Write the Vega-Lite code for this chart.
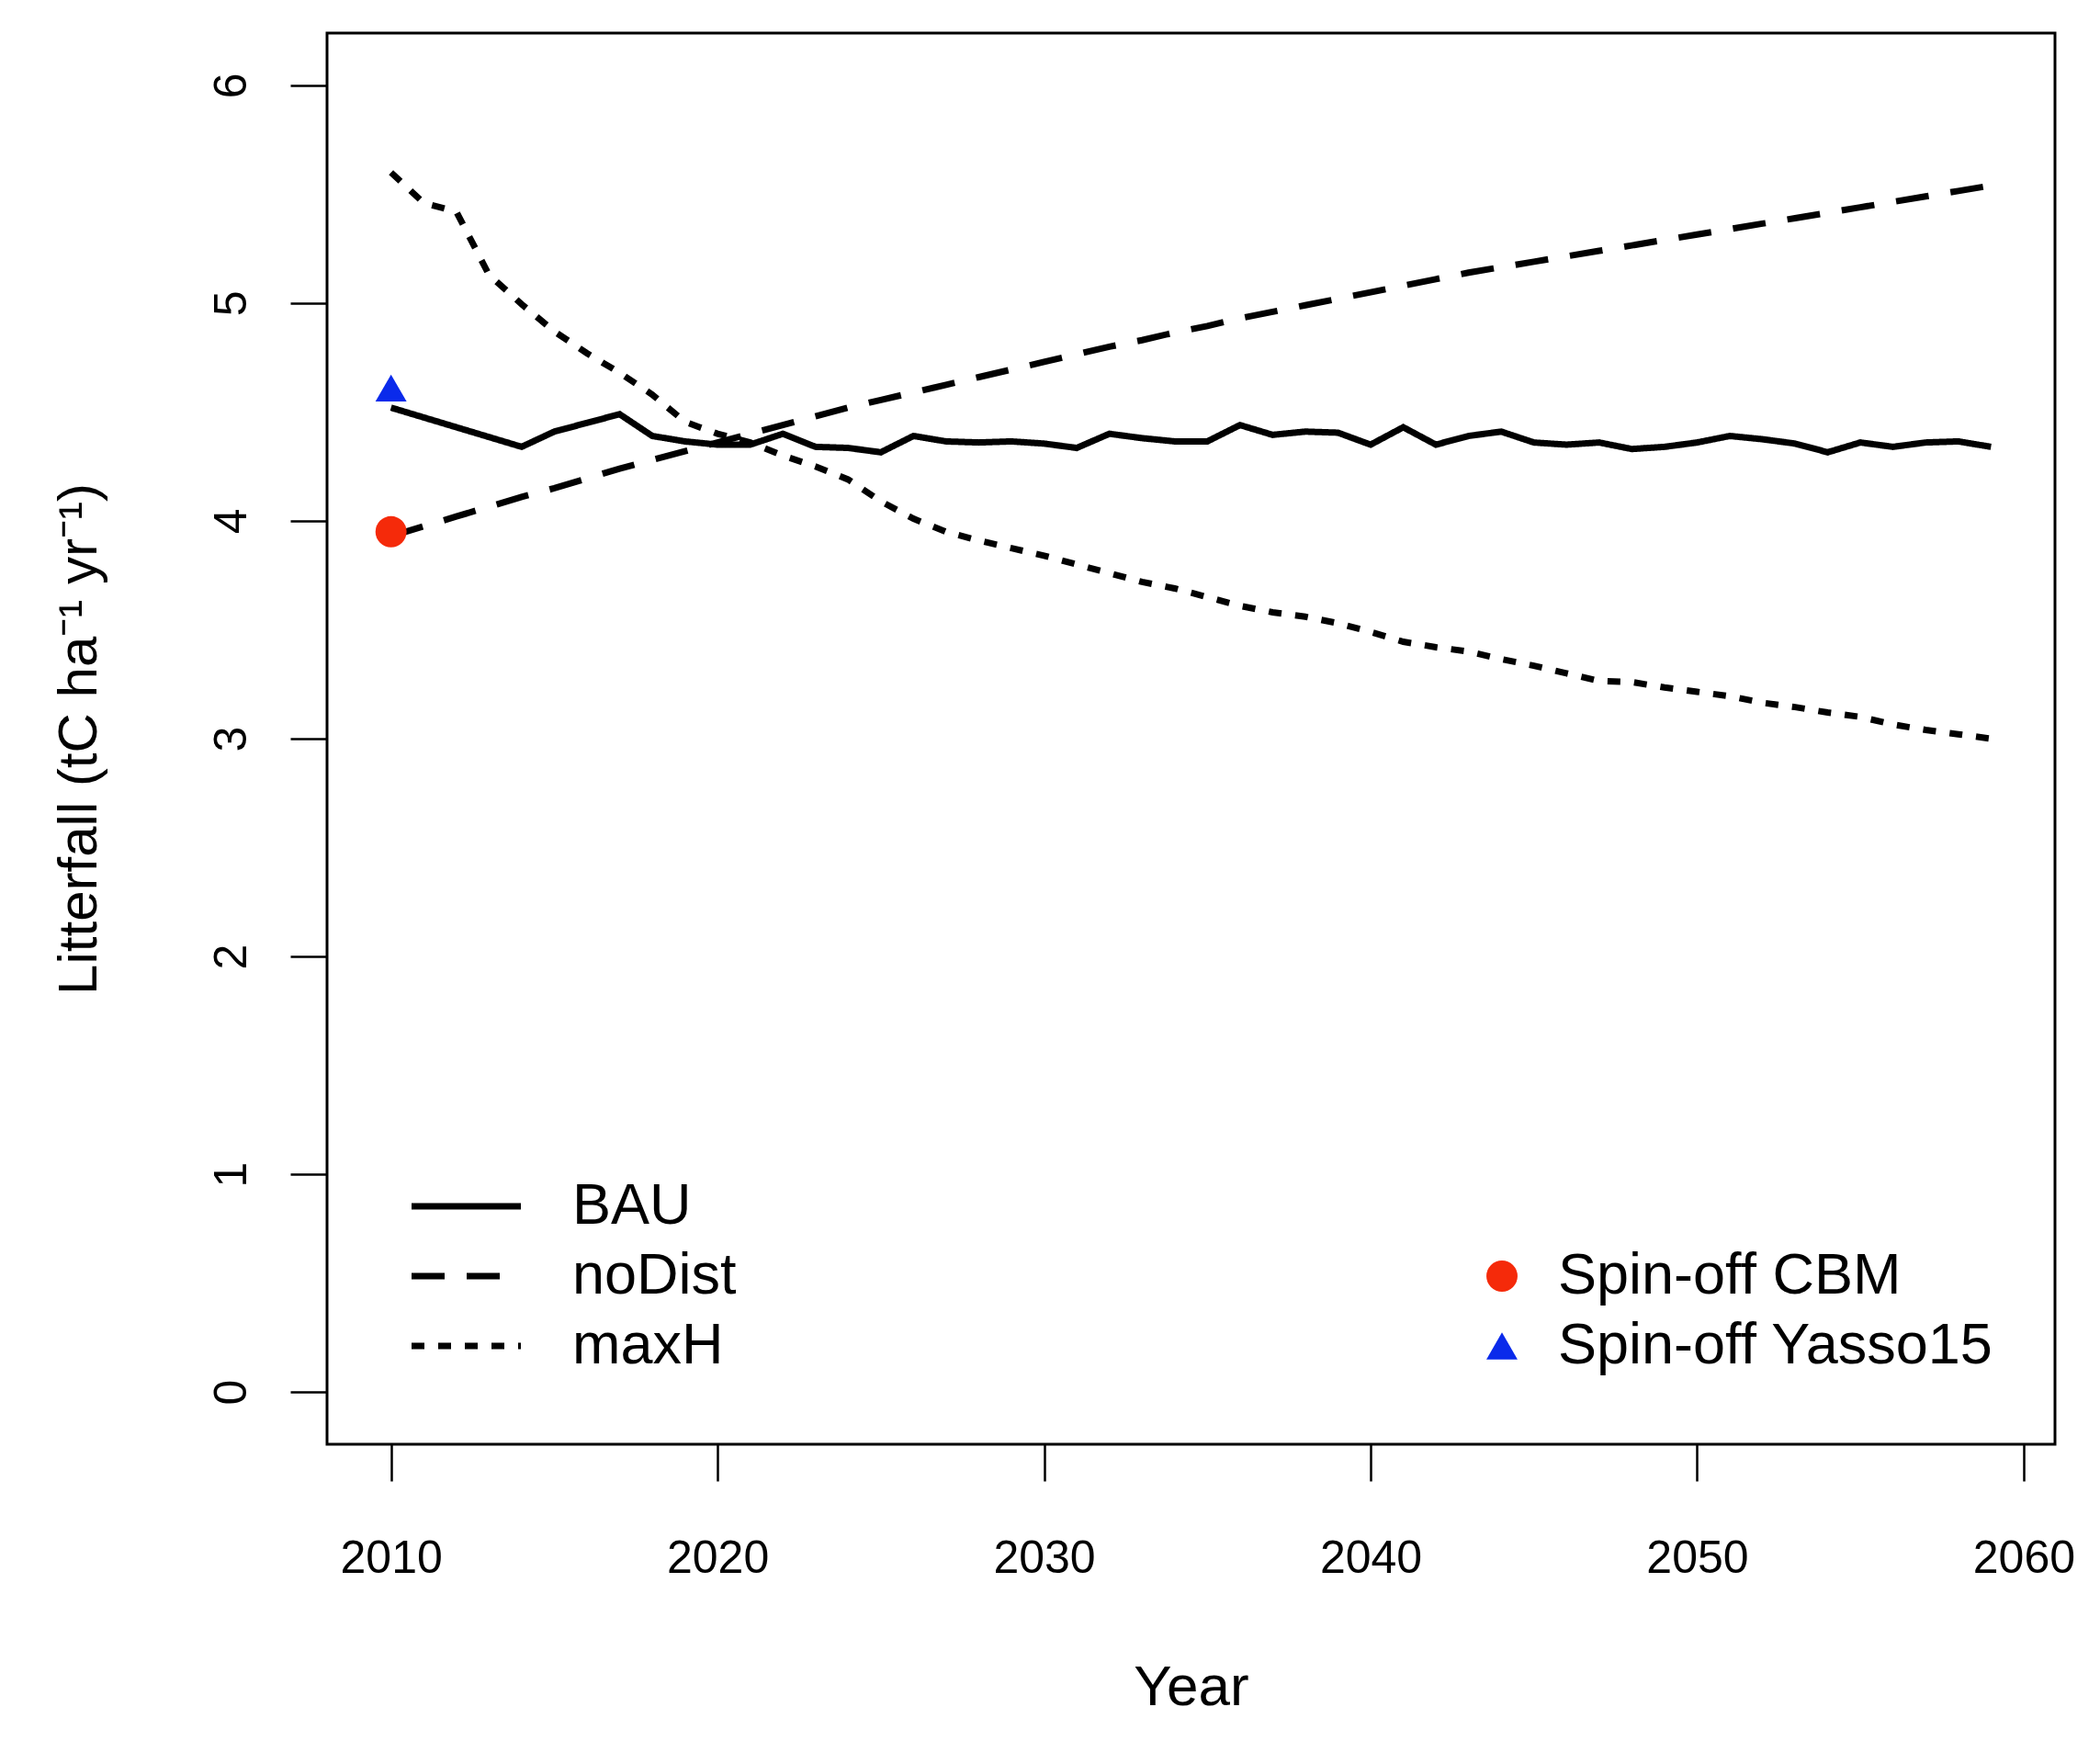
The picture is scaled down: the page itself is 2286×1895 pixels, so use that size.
{
  "$schema": "https://vega.github.io/schema/vega-lite/v6.json",
  "width": 1881,
  "height": 1536,
  "autosize": {"type": "none"},
  "padding": {"left": 356, "top": 36, "right": 49, "bottom": 323},
  "background": "white",
  "config": {
    "view": {"stroke": "black", "strokeWidth": 3},
    "font": "Liberation Sans"
  },
  "datasets": {
    "lines": [
      {"year": 2010, "scenario": "BAU", "litterfall": 4.52},
      {"year": 2011, "scenario": "BAU", "litterfall": 4.475},
      {"year": 2012, "scenario": "BAU", "litterfall": 4.43},
      {"year": 2013, "scenario": "BAU", "litterfall": 4.385},
      {"year": 2014, "scenario": "BAU", "litterfall": 4.34},
      {"year": 2015, "scenario": "BAU", "litterfall": 4.41},
      {"year": 2016, "scenario": "BAU", "litterfall": 4.45},
      {"year": 2017, "scenario": "BAU", "litterfall": 4.49},
      {"year": 2018, "scenario": "BAU", "litterfall": 4.39},
      {"year": 2019, "scenario": "BAU", "litterfall": 4.365},
      {"year": 2020, "scenario": "BAU", "litterfall": 4.35},
      {"year": 2021, "scenario": "BAU", "litterfall": 4.35},
      {"year": 2022, "scenario": "BAU", "litterfall": 4.40},
      {"year": 2023, "scenario": "BAU", "litterfall": 4.34},
      {"year": 2024, "scenario": "BAU", "litterfall": 4.335},
      {"year": 2025, "scenario": "BAU", "litterfall": 4.315},
      {"year": 2026, "scenario": "BAU", "litterfall": 4.39},
      {"year": 2027, "scenario": "BAU", "litterfall": 4.365},
      {"year": 2028, "scenario": "BAU", "litterfall": 4.36},
      {"year": 2029, "scenario": "BAU", "litterfall": 4.365},
      {"year": 2030, "scenario": "BAU", "litterfall": 4.355},
      {"year": 2031, "scenario": "BAU", "litterfall": 4.335},
      {"year": 2032, "scenario": "BAU", "litterfall": 4.40},
      {"year": 2033, "scenario": "BAU", "litterfall": 4.38},
      {"year": 2034, "scenario": "BAU", "litterfall": 4.365},
      {"year": 2035, "scenario": "BAU", "litterfall": 4.365},
      {"year": 2036, "scenario": "BAU", "litterfall": 4.44},
      {"year": 2037, "scenario": "BAU", "litterfall": 4.395},
      {"year": 2038, "scenario": "BAU", "litterfall": 4.41},
      {"year": 2039, "scenario": "BAU", "litterfall": 4.405},
      {"year": 2040, "scenario": "BAU", "litterfall": 4.35},
      {"year": 2041, "scenario": "BAU", "litterfall": 4.43},
      {"year": 2042, "scenario": "BAU", "litterfall": 4.35},
      {"year": 2043, "scenario": "BAU", "litterfall": 4.39},
      {"year": 2044, "scenario": "BAU", "litterfall": 4.41},
      {"year": 2045, "scenario": "BAU", "litterfall": 4.36},
      {"year": 2046, "scenario": "BAU", "litterfall": 4.35},
      {"year": 2047, "scenario": "BAU", "litterfall": 4.36},
      {"year": 2048, "scenario": "BAU", "litterfall": 4.33},
      {"year": 2049, "scenario": "BAU", "litterfall": 4.34},
      {"year": 2050, "scenario": "BAU", "litterfall": 4.36},
      {"year": 2051, "scenario": "BAU", "litterfall": 4.39},
      {"year": 2052, "scenario": "BAU", "litterfall": 4.375},
      {"year": 2053, "scenario": "BAU", "litterfall": 4.355},
      {"year": 2054, "scenario": "BAU", "litterfall": 4.315},
      {"year": 2055, "scenario": "BAU", "litterfall": 4.36},
      {"year": 2056, "scenario": "BAU", "litterfall": 4.34},
      {"year": 2057, "scenario": "BAU", "litterfall": 4.36},
      {"year": 2058, "scenario": "BAU", "litterfall": 4.365},
      {"year": 2059, "scenario": "BAU", "litterfall": 4.34},
      {"year": 2010, "scenario": "noDist", "litterfall": 3.93},
      {"year": 2011, "scenario": "noDist", "litterfall": 3.975},
      {"year": 2012, "scenario": "noDist", "litterfall": 4.02},
      {"year": 2013, "scenario": "noDist", "litterfall": 4.065},
      {"year": 2014, "scenario": "noDist", "litterfall": 4.11},
      {"year": 2015, "scenario": "noDist", "litterfall": 4.15},
      {"year": 2016, "scenario": "noDist", "litterfall": 4.195},
      {"year": 2017, "scenario": "noDist", "litterfall": 4.24},
      {"year": 2018, "scenario": "noDist", "litterfall": 4.28},
      {"year": 2019, "scenario": "noDist", "litterfall": 4.32},
      {"year": 2020, "scenario": "noDist", "litterfall": 4.36},
      {"year": 2021, "scenario": "noDist", "litterfall": 4.40},
      {"year": 2022, "scenario": "noDist", "litterfall": 4.44},
      {"year": 2023, "scenario": "noDist", "litterfall": 4.48},
      {"year": 2024, "scenario": "noDist", "litterfall": 4.52},
      {"year": 2025, "scenario": "noDist", "litterfall": 4.555},
      {"year": 2026, "scenario": "noDist", "litterfall": 4.59},
      {"year": 2027, "scenario": "noDist", "litterfall": 4.625},
      {"year": 2028, "scenario": "noDist", "litterfall": 4.66},
      {"year": 2029, "scenario": "noDist", "litterfall": 4.695},
      {"year": 2030, "scenario": "noDist", "litterfall": 4.73},
      {"year": 2031, "scenario": "noDist", "litterfall": 4.765},
      {"year": 2032, "scenario": "noDist", "litterfall": 4.80},
      {"year": 2033, "scenario": "noDist", "litterfall": 4.83},
      {"year": 2034, "scenario": "noDist", "litterfall": 4.865},
      {"year": 2035, "scenario": "noDist", "litterfall": 4.895},
      {"year": 2036, "scenario": "noDist", "litterfall": 4.93},
      {"year": 2037, "scenario": "noDist", "litterfall": 4.96},
      {"year": 2038, "scenario": "noDist", "litterfall": 4.99},
      {"year": 2039, "scenario": "noDist", "litterfall": 5.02},
      {"year": 2040, "scenario": "noDist", "litterfall": 5.05},
      {"year": 2041, "scenario": "noDist", "litterfall": 5.08},
      {"year": 2042, "scenario": "noDist", "litterfall": 5.11},
      {"year": 2043, "scenario": "noDist", "litterfall": 5.14},
      {"year": 2044, "scenario": "noDist", "litterfall": 5.165},
      {"year": 2045, "scenario": "noDist", "litterfall": 5.19},
      {"year": 2046, "scenario": "noDist", "litterfall": 5.215},
      {"year": 2047, "scenario": "noDist", "litterfall": 5.24},
      {"year": 2048, "scenario": "noDist", "litterfall": 5.265},
      {"year": 2049, "scenario": "noDist", "litterfall": 5.29},
      {"year": 2050, "scenario": "noDist", "litterfall": 5.315},
      {"year": 2051, "scenario": "noDist", "litterfall": 5.34},
      {"year": 2052, "scenario": "noDist", "litterfall": 5.365},
      {"year": 2053, "scenario": "noDist", "litterfall": 5.39},
      {"year": 2054, "scenario": "noDist", "litterfall": 5.415},
      {"year": 2055, "scenario": "noDist", "litterfall": 5.44},
      {"year": 2056, "scenario": "noDist", "litterfall": 5.465},
      {"year": 2057, "scenario": "noDist", "litterfall": 5.49},
      {"year": 2058, "scenario": "noDist", "litterfall": 5.515},
      {"year": 2059, "scenario": "noDist", "litterfall": 5.54},
      {"year": 2010, "scenario": "maxH", "litterfall": 5.60},
      {"year": 2011, "scenario": "maxH", "litterfall": 5.46},
      {"year": 2012, "scenario": "maxH", "litterfall": 5.42},
      {"year": 2013, "scenario": "maxH", "litterfall": 5.13},
      {"year": 2014, "scenario": "maxH", "litterfall": 4.995},
      {"year": 2015, "scenario": "maxH", "litterfall": 4.87},
      {"year": 2016, "scenario": "maxH", "litterfall": 4.77},
      {"year": 2017, "scenario": "maxH", "litterfall": 4.68},
      {"year": 2018, "scenario": "maxH", "litterfall": 4.58},
      {"year": 2019, "scenario": "maxH", "litterfall": 4.455},
      {"year": 2020, "scenario": "maxH", "litterfall": 4.40},
      {"year": 2021, "scenario": "maxH", "litterfall": 4.36},
      {"year": 2022, "scenario": "maxH", "litterfall": 4.30},
      {"year": 2023, "scenario": "maxH", "litterfall": 4.25},
      {"year": 2024, "scenario": "maxH", "litterfall": 4.19},
      {"year": 2025, "scenario": "maxH", "litterfall": 4.09},
      {"year": 2026, "scenario": "maxH", "litterfall": 4.01},
      {"year": 2027, "scenario": "maxH", "litterfall": 3.95},
      {"year": 2028, "scenario": "maxH", "litterfall": 3.91},
      {"year": 2029, "scenario": "maxH", "litterfall": 3.875},
      {"year": 2030, "scenario": "maxH", "litterfall": 3.84},
      {"year": 2031, "scenario": "maxH", "litterfall": 3.80},
      {"year": 2032, "scenario": "maxH", "litterfall": 3.76},
      {"year": 2033, "scenario": "maxH", "litterfall": 3.72},
      {"year": 2034, "scenario": "maxH", "litterfall": 3.69},
      {"year": 2035, "scenario": "maxH", "litterfall": 3.65},
      {"year": 2036, "scenario": "maxH", "litterfall": 3.61},
      {"year": 2037, "scenario": "maxH", "litterfall": 3.58},
      {"year": 2038, "scenario": "maxH", "litterfall": 3.56},
      {"year": 2039, "scenario": "maxH", "litterfall": 3.53},
      {"year": 2040, "scenario": "maxH", "litterfall": 3.49},
      {"year": 2041, "scenario": "maxH", "litterfall": 3.445},
      {"year": 2042, "scenario": "maxH", "litterfall": 3.42},
      {"year": 2043, "scenario": "maxH", "litterfall": 3.40},
      {"year": 2044, "scenario": "maxH", "litterfall": 3.365},
      {"year": 2045, "scenario": "maxH", "litterfall": 3.335},
      {"year": 2046, "scenario": "maxH", "litterfall": 3.30},
      {"year": 2047, "scenario": "maxH", "litterfall": 3.265},
      {"year": 2048, "scenario": "maxH", "litterfall": 3.26},
      {"year": 2049, "scenario": "maxH", "litterfall": 3.235},
      {"year": 2050, "scenario": "maxH", "litterfall": 3.215},
      {"year": 2051, "scenario": "maxH", "litterfall": 3.195},
      {"year": 2052, "scenario": "maxH", "litterfall": 3.165},
      {"year": 2053, "scenario": "maxH", "litterfall": 3.145},
      {"year": 2054, "scenario": "maxH", "litterfall": 3.12},
      {"year": 2055, "scenario": "maxH", "litterfall": 3.10},
      {"year": 2056, "scenario": "maxH", "litterfall": 3.065},
      {"year": 2057, "scenario": "maxH", "litterfall": 3.04},
      {"year": 2058, "scenario": "maxH", "litterfall": 3.02},
      {"year": 2059, "scenario": "maxH", "litterfall": 3.00}
    ],
    "points": [
      {"year": 2010, "source": "Spin-off CBM", "litterfall": 3.95},
      {"year": 2010, "source": "Spin-off Yasso15", "litterfall": 4.61}
    ]
  },
  "layer": [
    {
      "data": {"name": "lines"},
      "mark": {"type": "line", "color": "black", "strokeWidth": 7, "strokeCap": "butt"},
      "encoding": {
        "x": {
          "field": "year", "type": "quantitative",
          "scale": {"domain": [2008.04, 2060.96], "nice": false, "zero": false},
          "axis": {
            "values": [2010, 2020, 2030, 2040, 2050, 2060], "format": "d",
            "grid": false, "domain": false,
            "tickSize": 40, "tickWidth": 2.5, "tickColor": "black",
            "labelFontSize": 50, "labelColor": "black", "labelPadding": 59,
            "labelFlush": false, "labelOverlap": false,
            "title": "Year", "titleFontSize": 62, "titleFontWeight": "normal",
            "titleColor": "black", "titlePadding": 85
          }
        },
        "y": {
          "field": "litterfall", "type": "quantitative",
          "scale": {"domain": [-0.24, 6.24], "nice": false, "zero": false},
          "axis": {
            "values": [0, 1, 2, 3, 4, 5, 6], "format": "d",
            "grid": false, "domain": false,
            "tickSize": 40, "tickWidth": 2.5, "tickColor": "black",
            "labelAngle": -90, "labelAlign": "center", "labelBaseline": "alphabetic",
            "labelPadding": 49, "labelFontSize": 50, "labelColor": "black",
            "title": "Litterfall (tC ha⁻¹ yr⁻¹)", "titleFontSize": 60,
            "titleFontWeight": "normal", "titleColor": "black", "titlePadding": 110
          }
        },
        "strokeDash": {
          "field": "scenario", "type": "nominal",
          "scale": {"domain": ["BAU", "noDist", "maxH"], "range": [[1, 0], [36, 24], [14, 15]]},
          "legend": {
            "title": null, "orient": "none", "legendX": 88.5, "legendY": 1245,
            "symbolType": "stroke", "symbolSize": 14161, "symbolStrokeWidth": 7,
            "symbolStrokeColor": "black", "labelFontSize": 63, "labelColor": "black",
            "labelOffset": 52.5, "labelLimit": 0, "clipHeight": 64, "rowPadding": 12, "padding": 0
          }
        }
      }
    },
    {
      "data": {"name": "points"},
      "mark": {"type": "point", "filled": true, "size": 1150, "opacity": 1},
      "encoding": {
        "x": {"field": "year", "type": "quantitative"},
        "y": {"field": "litterfall", "type": "quantitative"},
        "color": {
          "field": "source", "type": "nominal",
          "scale": {"domain": ["Spin-off CBM", "Spin-off Yasso15"], "range": ["#f52a0a", "#0a2aeb"]},
          "legend": {
            "title": null, "orient": "none", "legendX": 1247.5, "legendY": 1321,
            "symbolSize": 1150, "symbolStrokeWidth": 0, "labelFontSize": 63,
            "labelColor": "black", "labelOffset": 29.5, "labelLimit": 0, "clipHeight": 64,
            "rowPadding": 12, "padding": 0
          }
        },
        "shape": {
          "field": "source", "type": "nominal",
          "scale": {"domain": ["Spin-off CBM", "Spin-off Yasso15"], "range": ["circle", "triangle-up"]},
          "legend": {
            "title": null, "orient": "none", "legendX": 1247.5, "legendY": 1321,
            "symbolSize": 1150, "symbolStrokeWidth": 0, "labelFontSize": 63,
            "labelColor": "black", "labelOffset": 29.5, "labelLimit": 0, "clipHeight": 64,
            "rowPadding": 12, "padding": 0
          }
        }
      }
    }
  ]
}
